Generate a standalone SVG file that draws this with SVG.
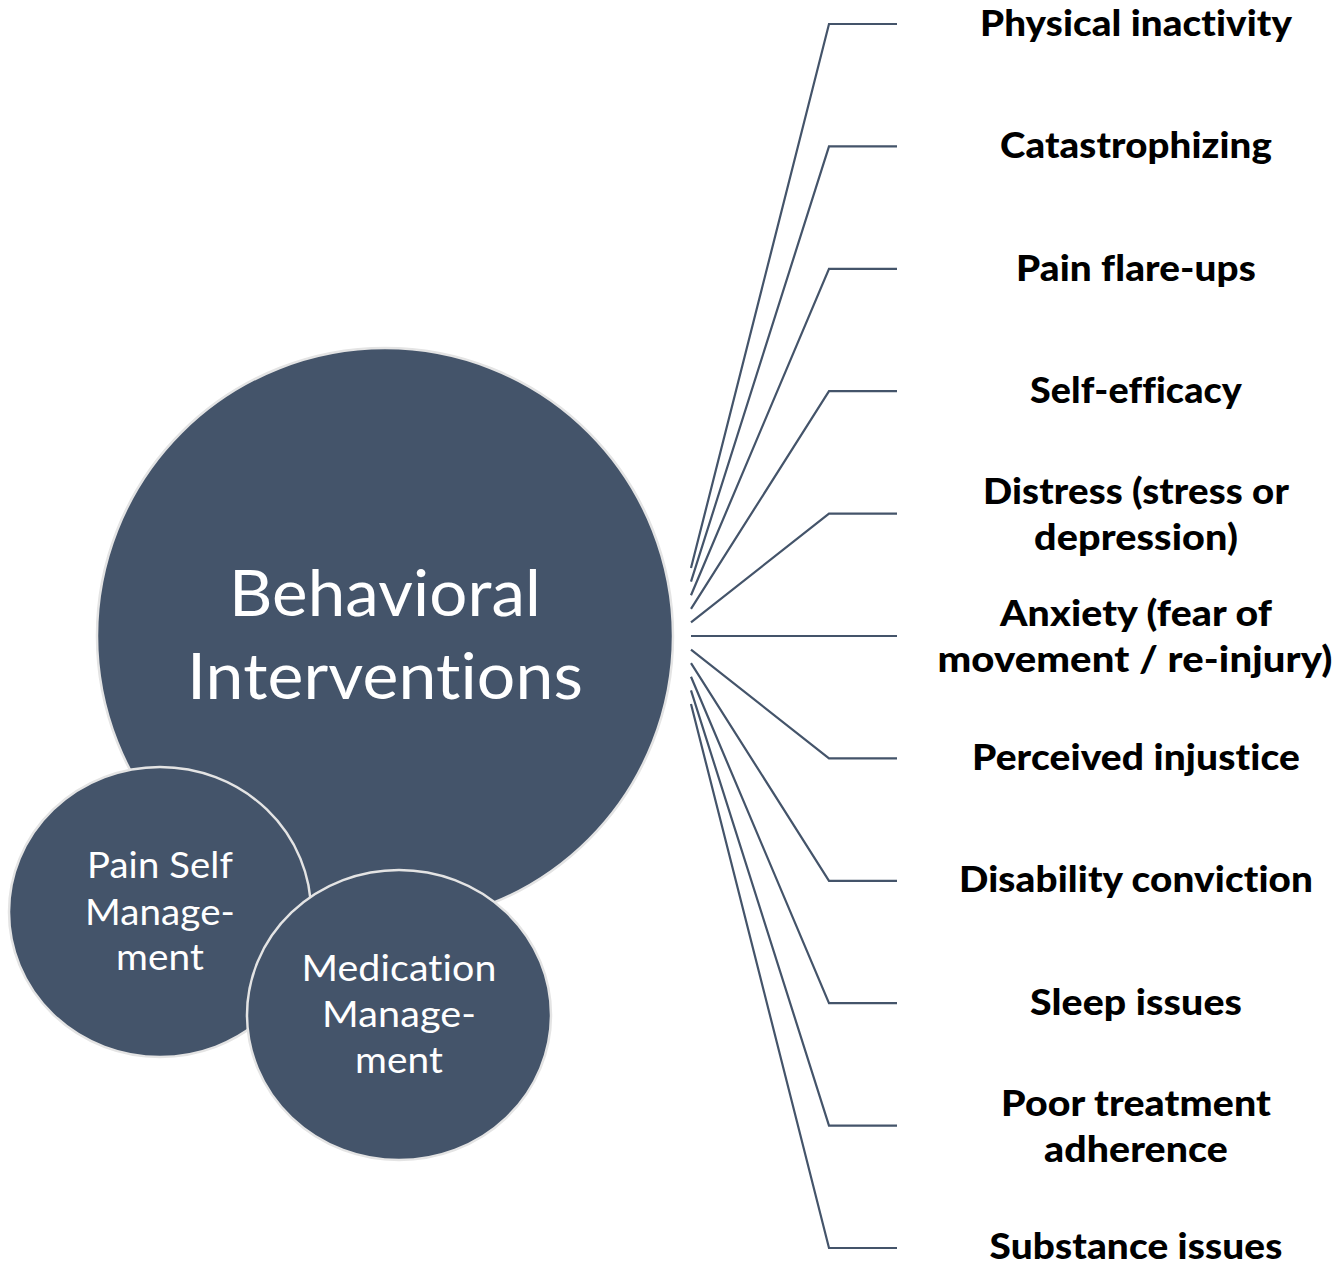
<svg xmlns="http://www.w3.org/2000/svg" width="1340" height="1266" viewBox="0 0 1340 1266">
<style>
.bub{fill:#44546A;stroke:#E4E4E4;stroke-width:2.5}
.wt{fill:#FFFFFF;font-family:Lato,"Open Sans","Liberation Sans",sans-serif;text-anchor:middle;font-variant-ligatures:none;font-feature-settings:"liga" 0,"clig" 0,"dlig" 0;letter-spacing:0.1px}
.big{font-size:63px}
.sm{font-size:37px}
.lbl{fill:#000000;font-family:Lato,"Open Sans","Liberation Sans",sans-serif;font-weight:900;font-size:36px;text-anchor:middle;font-variant-ligatures:none;font-feature-settings:"liga" 0,"clig" 0,"dlig" 0;letter-spacing:0.1px}
.con{fill:none;stroke:#44546A;stroke-width:2.2}
</style>
<rect width="1340" height="1266" fill="#FFFFFF"/>
<g id="connectors">
<polyline class="con" points="691,568 829,24 897,24"/>
<polyline class="con" points="691,581.6 829,146.4 897,146.4"/>
<polyline class="con" points="691,595.2 829,268.8 897,268.8"/>
<polyline class="con" points="691,608.8 829,391.2 897,391.2"/>
<polyline class="con" points="691,622.4 829,513.6 897,513.6"/>
<polyline class="con" points="691,636 829,636 897,636"/>
<polyline class="con" points="691,649.6 829,758.4 897,758.4"/>
<polyline class="con" points="691,663.2 829,880.8 897,880.8"/>
<polyline class="con" points="691,676.8 829,1003.2 897,1003.2"/>
<polyline class="con" points="691,690.4 829,1125.6 897,1125.6"/>
<polyline class="con" points="691,704 829,1248 897,1248"/>
</g>
<g id="behavioral-interventions">
<circle class="bub" cx="385" cy="636" r="288"/>
<text class="wt big" x="385" y="616" textLength="312" lengthAdjust="spacingAndGlyphs">Behavioral</text>
<text class="wt big" x="385" y="699" textLength="396" lengthAdjust="spacingAndGlyphs">Interventions</text>
</g>
<g id="pain-self-management">
<ellipse class="bub" cx="160" cy="912" rx="151" ry="145"/>
<text class="wt sm" x="160" y="878" textLength="146" lengthAdjust="spacingAndGlyphs">Pain Self</text>
<text class="wt sm" x="160" y="925" textLength="150" lengthAdjust="spacingAndGlyphs">Manage-</text>
<text class="wt sm" x="160" y="970" textLength="88" lengthAdjust="spacingAndGlyphs">ment</text>
</g>
<g id="medication-management">
<ellipse class="bub" cx="399" cy="1015" rx="152" ry="145"/>
<text class="wt sm" x="399" y="981" textLength="195" lengthAdjust="spacingAndGlyphs">Medication</text>
<text class="wt sm" x="399" y="1027" textLength="154" lengthAdjust="spacingAndGlyphs">Manage-</text>
<text class="wt sm" x="399" y="1073" textLength="88" lengthAdjust="spacingAndGlyphs">ment</text>
</g>
<g id="physical-inactivity"><text class="lbl" x="1136" y="36" textLength="312" lengthAdjust="spacingAndGlyphs">Physical inactivity</text></g>
<g id="catastrophizing"><text class="lbl" x="1136" y="158" textLength="272" lengthAdjust="spacingAndGlyphs">Catastrophizing</text></g>
<g id="pain-flare-ups"><text class="lbl" x="1136" y="281" textLength="240" lengthAdjust="spacingAndGlyphs">Pain flare-ups</text></g>
<g id="self-efficacy"><text class="lbl" x="1136" y="403" textLength="212" lengthAdjust="spacingAndGlyphs">Self-efficacy</text></g>
<g id="distress">
<text class="lbl" x="1136" y="504" textLength="306" lengthAdjust="spacingAndGlyphs">Distress (stress or</text>
<text class="lbl" x="1136" y="550" textLength="204" lengthAdjust="spacingAndGlyphs">depression)</text>
</g>
<g id="anxiety">
<text class="lbl" x="1136" y="626" textLength="272" lengthAdjust="spacingAndGlyphs">Anxiety (fear of</text>
<text class="lbl" x="1135" y="672" textLength="395" lengthAdjust="spacingAndGlyphs">movement / re-injury)</text>
</g>
<g id="perceived-injustice"><text class="lbl" x="1136" y="770" textLength="328" lengthAdjust="spacingAndGlyphs">Perceived injustice</text></g>
<g id="disability-conviction"><text class="lbl" x="1136" y="892" textLength="354" lengthAdjust="spacingAndGlyphs">Disability conviction</text></g>
<g id="sleep-issues"><text class="lbl" x="1136" y="1015" textLength="212" lengthAdjust="spacingAndGlyphs">Sleep issues</text></g>
<g id="poor-treatment-adherence">
<text class="lbl" x="1136" y="1116" textLength="270" lengthAdjust="spacingAndGlyphs">Poor treatment</text>
<text class="lbl" x="1136" y="1162" textLength="184" lengthAdjust="spacingAndGlyphs">adherence</text>
</g>
<g id="substance-issues"><text class="lbl" x="1136" y="1259" textLength="293" lengthAdjust="spacingAndGlyphs">Substance issues</text></g>
</svg>
